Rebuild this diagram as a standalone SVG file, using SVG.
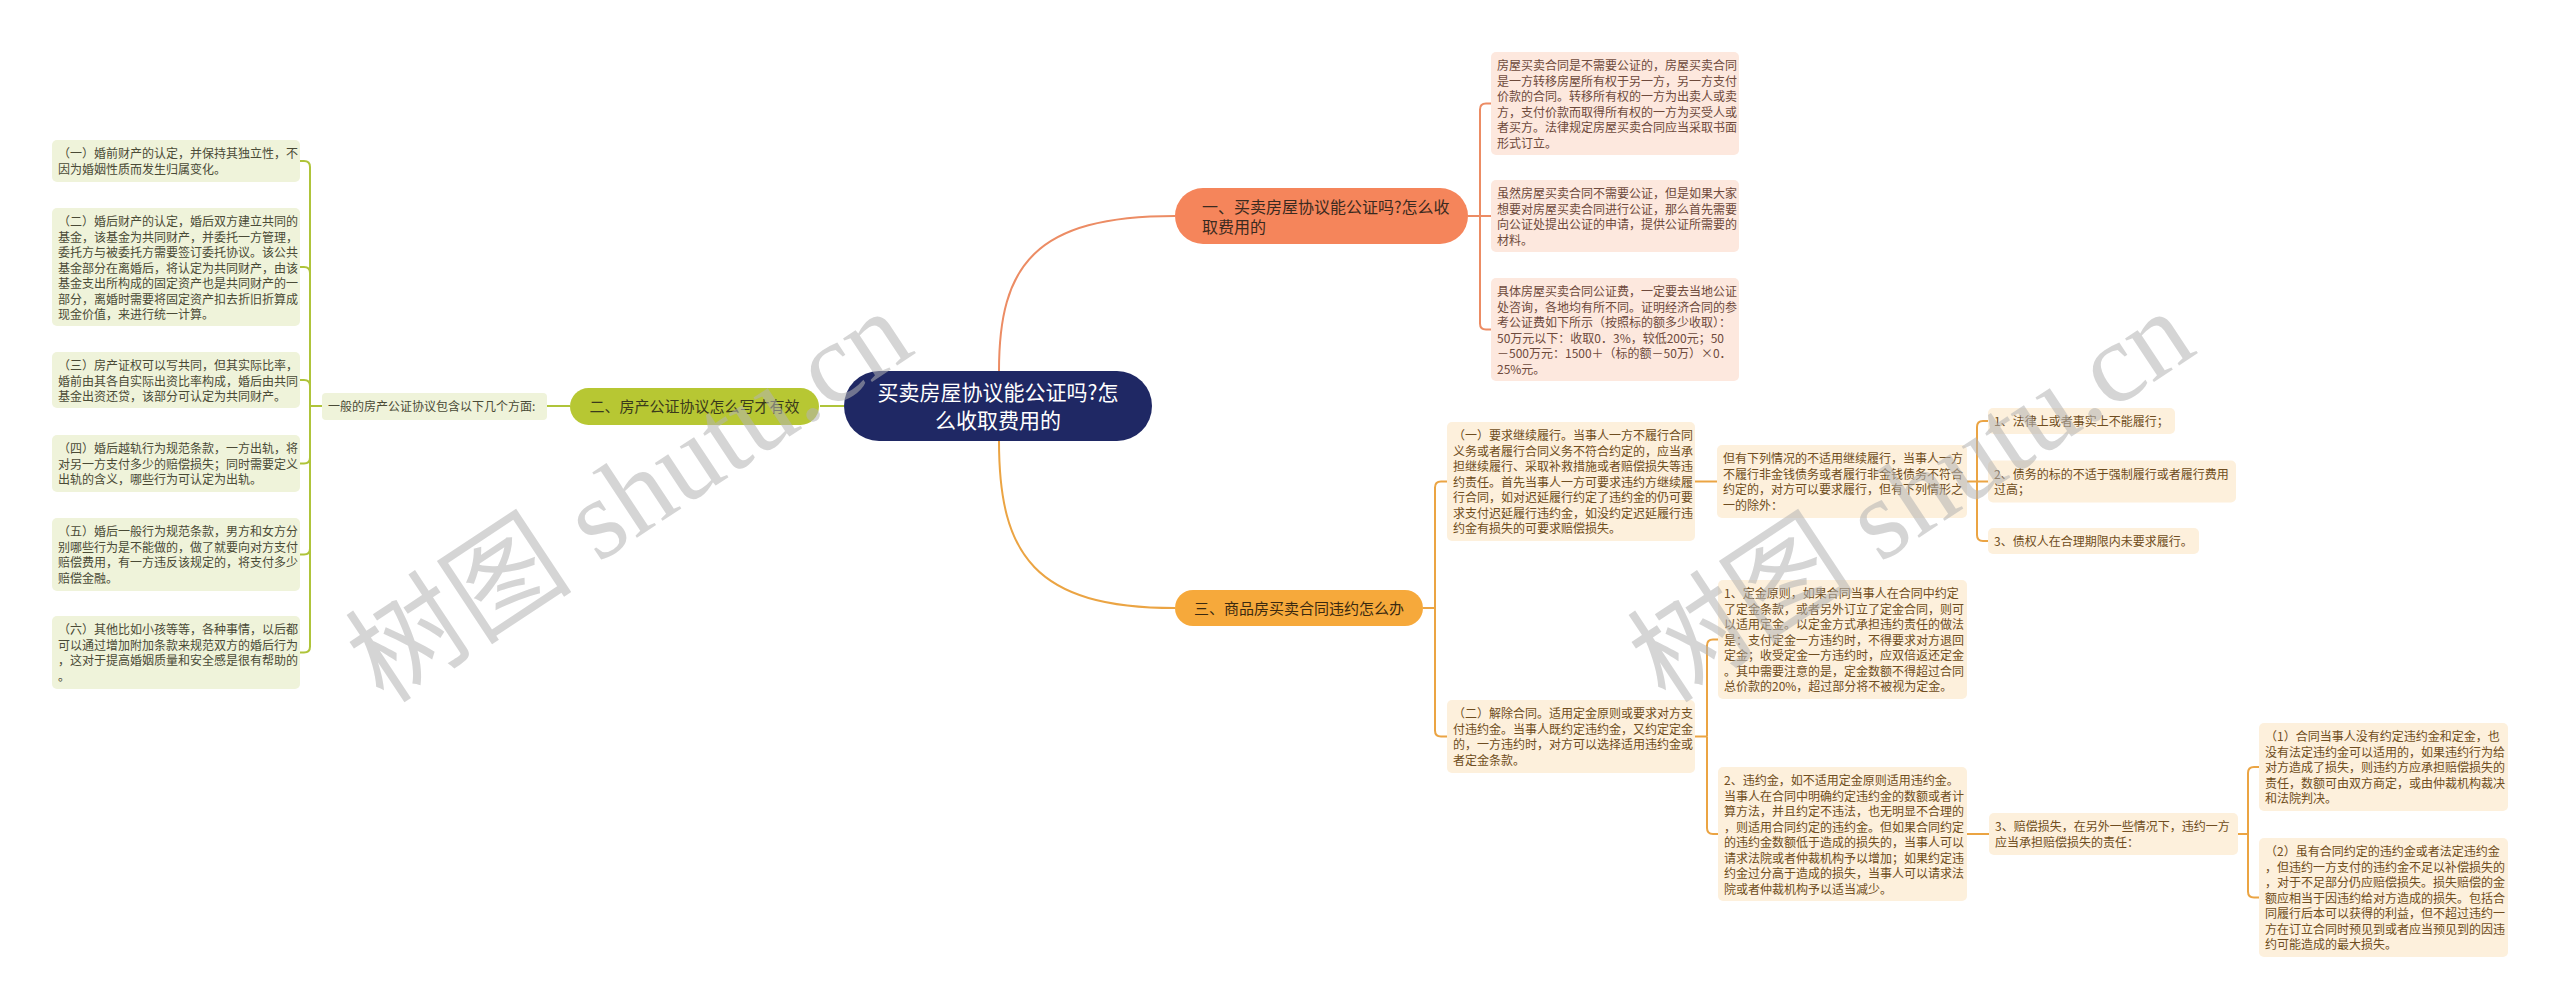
<svg xmlns="http://www.w3.org/2000/svg" width="2560" height="1007" viewBox="0 0 2560 1007">
<style>
text{font-family:"Noto Sans CJK SC","Noto Sans",sans-serif;}
.t12{font-size:12px;}
.lime rect{fill:#eff3da;}
.lime text{fill:#4a4a36;}
.pink rect{fill:#fde8de;}
.pink text{fill:#6e4a3c;}
.org rect{fill:#fdf0dc;}
.org text{fill:#6f4d20;}
.c-lime{fill:none;stroke:#afc43a;stroke-width:2;}
.c-coral{fill:none;stroke:#ec8c64;stroke-width:2;}
.c-org{fill:none;stroke:#eba443;stroke-width:2;}
.wm{font-family:"Liberation Serif","Noto Sans CJK SC",serif;font-size:114px;fill:#b4b4b4;opacity:0.55;}
</style>
<rect width="2560" height="1007" fill="#ffffff"/>

<g id="connectors">
  <path class="c-lime" d="M844 406 H820"/>
  <path class="c-lime" d="M570 406 H547"/>
  <path class="c-lime" d="M322 406 H310"/>
  <path class="c-lime" d="M310 406 V167 Q310 161 304 161 H300"/>
  <path class="c-lime" d="M310 406 V273 Q310 267 304 267 H300"/>
  <path class="c-lime" d="M310 406 V386 Q310 380 304 380 H300"/>
  <path class="c-lime" d="M310 406 V457.5 Q310 463.5 304 463.5 H300"/>
  <path class="c-lime" d="M310 406 V548.5 Q310 554.5 304 554.5 H300"/>
  <path class="c-lime" d="M310 406 V646.5 Q310 652.5 304 652.5 H300"/>

  <path class="c-coral" d="M999 371 C999 265 1035 216 1175 216"/>
  <path class="c-coral" d="M1468 216 H1491"/>
  <path class="c-coral" d="M1480 216 V109.5 Q1480 103.5 1486 103.5 H1491"/>
  <path class="c-coral" d="M1480 216 V323.5 Q1480 329.5 1486 329.5 H1491"/>

  <path class="c-org" d="M999 441 C999 555 1035 608 1175 608"/>
  <path class="c-org" d="M1423 608 H1435"/>
  <path class="c-org" d="M1435 608 V487.5 Q1435 481.5 1441 481.5 H1447"/>
  <path class="c-org" d="M1435 608 V730.5 Q1435 736.5 1441 736.5 H1447"/>
  <path class="c-org" d="M1695 481.5 H1717"/>
  <path class="c-org" d="M1967 481.5 H1988"/>
  <path class="c-org" d="M1977 481.5 V427 Q1977 421 1983 421 H1988"/>
  <path class="c-org" d="M1977 481.5 V535 Q1977 541 1983 541 H1988"/>
  <path class="c-org" d="M1695 736.5 H1707"/>
  <path class="c-org" d="M1707 736.5 V645.5 Q1707 639.5 1713 639.5 H1718"/>
  <path class="c-org" d="M1707 736.5 V828 Q1707 834 1713 834 H1718"/>
  <path class="c-org" d="M1967 834 H1989"/>
  <path class="c-org" d="M2238 834 H2248"/>
  <path class="c-org" d="M2248 834 V773 Q2248 767 2254 767 H2259"/>
  <path class="c-org" d="M2248 834 V891.5 Q2248 897.5 2254 897.5 H2259"/>
</g>

<g id="root">
  <rect x="844" y="371" width="308" height="70" rx="35" fill="#1f2864"/>
  <text x="998" y="400" font-size="21" fill="#ffffff" text-anchor="middle">买卖房屋协议能公证吗?怎</text>
  <text x="998" y="428" font-size="21" fill="#ffffff" text-anchor="middle">么收取费用的</text>
</g>

<g id="branch2">
  <rect x="570" y="388" width="249" height="37" rx="18.5" fill="#b7c733"/>
  <text x="694.5" y="411.5" font-size="15" fill="#3a3a1c" text-anchor="middle">二、房产公证协议怎么写才有效</text>
</g>
<g id="b2-sub" class="lime">
  <rect x="322" y="393" width="225" height="27" rx="4"/>
  <text x="328" y="410.5" class="t12">一般的房产公证协议包含以下几个方面:</text>
</g>
<g id="leaf-l1" class="lime">
  <rect x="52" y="140" width="248" height="42" rx="5"/>
  <text class="t12"><tspan x="58" y="158">（一）婚前财产的认定，并保持其独立性，不</tspan><tspan x="58" dy="15.5">因为婚姻性质而发生归属变化。</tspan></text>
</g>
<g id="leaf-l2" class="lime">
  <rect x="52" y="208" width="248" height="118" rx="5"/>
  <text class="t12"><tspan x="58" y="226">（二）婚后财产的认定，婚后双方建立共同的</tspan><tspan x="58" dy="15.5">基金，该基金为共同财产，并委托一方管理，</tspan><tspan x="58" dy="15.5">委托方与被委托方需要签订委托协议。该公共</tspan><tspan x="58" dy="15.5">基金部分在离婚后，将认定为共同财产，由该</tspan><tspan x="58" dy="15.5">基金支出所构成的固定资产也是共同财产的一</tspan><tspan x="58" dy="15.5">部分，离婚时需要将固定资产扣去折旧折算成</tspan><tspan x="58" dy="15.5">现金价值，来进行统一计算。</tspan></text>
</g>
<g id="leaf-l3" class="lime">
  <rect x="52" y="352" width="248" height="56" rx="5"/>
  <text class="t12"><tspan x="58" y="370">（三）房产证权可以写共同，但其实际比率，</tspan><tspan x="58" dy="15.5">婚前由其各自实际出资比率构成，婚后由共同</tspan><tspan x="58" dy="15.5">基金出资还贷，该部分可认定为共同财产。</tspan></text>
</g>
<g id="leaf-l4" class="lime">
  <rect x="52" y="435" width="248" height="57" rx="5"/>
  <text class="t12"><tspan x="58" y="453">（四）婚后越轨行为规范条款，一方出轨，将</tspan><tspan x="58" dy="15.5">对另一方支付多少的赔偿损失；同时需要定义</tspan><tspan x="58" dy="15.5">出轨的含义，哪些行为可认定为出轨。</tspan></text>
</g>
<g id="leaf-l5" class="lime">
  <rect x="52" y="518" width="248" height="73" rx="5"/>
  <text class="t12"><tspan x="58" y="536">（五）婚后一般行为规范条款，男方和女方分</tspan><tspan x="58" dy="15.5">别哪些行为是不能做的，做了就要向对方支付</tspan><tspan x="58" dy="15.5">赔偿费用，有一方违反该规定的，将支付多少</tspan><tspan x="58" dy="15.5">赔偿金融。</tspan></text>
</g>
<g id="leaf-l6" class="lime">
  <rect x="52" y="616" width="248" height="73" rx="5"/>
  <text class="t12"><tspan x="58" y="634">（六）其他比如小孩等等，各种事情，以后都</tspan><tspan x="58" dy="15.5">可以通过增加附加条款来规范双方的婚后行为</tspan><tspan x="58" dy="15.5">，这对于提高婚姻质量和安全感是很有帮助的</tspan><tspan x="58" dy="15.5">。</tspan></text>
</g>

<g id="branch1">
  <rect x="1175" y="188" width="293" height="56" rx="28" fill="#f5855b"/>
  <text font-size="16" fill="#3b2a20"><tspan x="1202" y="212.5">一、买卖房屋协议能公证吗?怎么收</tspan><tspan x="1202" dy="20">取费用的</tspan></text>
</g>
<g id="pink-a" class="pink">
  <rect x="1491" y="52" width="248" height="103" rx="5"/>
  <text class="t12"><tspan x="1497" y="70">房屋买卖合同是不需要公证的，房屋买卖合同</tspan><tspan x="1497" dy="15.5">是一方转移房屋所有权于另一方，另一方支付</tspan><tspan x="1497" dy="15.5">价款的合同。转移所有权的一方为出卖人或卖</tspan><tspan x="1497" dy="15.5">方，支付价款而取得所有权的一方为买受人或</tspan><tspan x="1497" dy="15.5">者买方。法律规定房屋买卖合同应当采取书面</tspan><tspan x="1497" dy="15.5">形式订立。</tspan></text>
</g>
<g id="pink-b" class="pink">
  <rect x="1491" y="180" width="248" height="72" rx="5"/>
  <text class="t12"><tspan x="1497" y="198">虽然房屋买卖合同不需要公证，但是如果大家</tspan><tspan x="1497" dy="15.5">想要对房屋买卖合同进行公证，那么首先需要</tspan><tspan x="1497" dy="15.5">向公证处提出公证的申请，提供公证所需要的</tspan><tspan x="1497" dy="15.5">材料。</tspan></text>
</g>
<g id="pink-c" class="pink">
  <rect x="1491" y="278" width="248" height="103" rx="5"/>
  <text class="t12"><tspan x="1497" y="296">具体房屋买卖合同公证费，一定要去当地公证</tspan><tspan x="1497" dy="15.5">处咨询，各地均有所不同。证明经济合同的参</tspan><tspan x="1497" dy="15.5">考公证费如下所示（按照标的额多少收取）：</tspan><tspan x="1497" dy="15.5">50万元以下：收取0．3%，较低200元；50</tspan><tspan x="1497" dy="15.5">－500万元：1500＋（标的额－50万）×0．</tspan><tspan x="1497" dy="15.5">25%元。</tspan></text>
</g>

<g id="branch3">
  <rect x="1175" y="590" width="248" height="36" rx="18" fill="#f6a93b"/>
  <text x="1299" y="613.5" font-size="15" fill="#3b2a10" text-anchor="middle">三、商品房买卖合同违约怎么办</text>
</g>
<g id="o-1" class="org">
  <rect x="1447" y="422" width="248" height="119" rx="5"/>
  <text class="t12"><tspan x="1453" y="440">（一）要求继续履行。当事人一方不履行合同</tspan><tspan x="1453" dy="15.5">义务或者履行合同义务不符合约定的，应当承</tspan><tspan x="1453" dy="15.5">担继续履行、采取补救措施或者赔偿损失等违</tspan><tspan x="1453" dy="15.5">约责任。首先当事人一方可要求违约方继续履</tspan><tspan x="1453" dy="15.5">行合同，如对迟延履行约定了违约金的仍可要</tspan><tspan x="1453" dy="15.5">求支付迟延履行违约金，如没约定迟延履行违</tspan><tspan x="1453" dy="15.5">约金有损失的可要求赔偿损失。</tspan></text>
</g>
<g id="o-except" class="org">
  <rect x="1717" y="445" width="250" height="73" rx="5"/>
  <text class="t12"><tspan x="1723" y="463">但有下列情况的不适用继续履行，当事人一方</tspan><tspan x="1723" dy="15.5">不履行非金钱债务或者履行非金钱债务不符合</tspan><tspan x="1723" dy="15.5">约定的，对方可以要求履行，但有下列情形之</tspan><tspan x="1723" dy="15.5">一的除外：</tspan></text>
</g>
<g id="o-e1" class="org">
  <rect x="1988" y="408" width="187" height="26" rx="5"/>
  <text class="t12" x="1994" y="425.5">1、法律上或者事实上不能履行；</text>
</g>
<g id="o-e2" class="org">
  <rect x="1988" y="460.5" width="248" height="42" rx="5"/>
  <text class="t12"><tspan x="1994" y="478.5">2、债务的标的不适于强制履行或者履行费用</tspan><tspan x="1994" dy="15.5">过高；</tspan></text>
</g>
<g id="o-e3" class="org">
  <rect x="1988" y="528" width="211" height="26" rx="5"/>
  <text class="t12" x="1994" y="545.5">3、债权人在合理期限内未要求履行。</text>
</g>
<g id="o-2" class="org">
  <rect x="1447" y="700" width="248" height="73" rx="5"/>
  <text class="t12"><tspan x="1453" y="718">（二）解除合同。适用定金原则或要求对方支</tspan><tspan x="1453" dy="15.5">付违约金。当事人既约定违约金，又约定定金</tspan><tspan x="1453" dy="15.5">的，一方违约时，对方可以选择适用违约金或</tspan><tspan x="1453" dy="15.5">者定金条款。</tspan></text>
</g>
<g id="o-deposit" class="org">
  <rect x="1718" y="580" width="249" height="119" rx="5"/>
  <text class="t12"><tspan x="1724" y="598">1、定金原则，如果合同当事人在合同中约定</tspan><tspan x="1724" dy="15.5">了定金条款，或者另外订立了定金合同，则可</tspan><tspan x="1724" dy="15.5">以适用定金。以定金方式承担违约责任的做法</tspan><tspan x="1724" dy="15.5">是：支付定金一方违约时，不得要求对方退回</tspan><tspan x="1724" dy="15.5">定金；收受定金一方违约时，应双倍返还定金</tspan><tspan x="1724" dy="15.5">。其中需要注意的是，定金数额不得超过合同</tspan><tspan x="1724" dy="15.5">总价款的20%，超过部分将不被视为定金。</tspan></text>
</g>
<g id="o-penalty" class="org">
  <rect x="1718" y="767" width="249" height="134" rx="5"/>
  <text class="t12"><tspan x="1724" y="785">2、违约金，如不适用定金原则适用违约金。</tspan><tspan x="1724" dy="15.5">当事人在合同中明确约定违约金的数额或者计</tspan><tspan x="1724" dy="15.5">算方法，并且约定不违法，也无明显不合理的</tspan><tspan x="1724" dy="15.5">，则适用合同约定的违约金。但如果合同约定</tspan><tspan x="1724" dy="15.5">的违约金数额低于造成的损失的，当事人可以</tspan><tspan x="1724" dy="15.5">请求法院或者仲裁机构予以增加；如果约定违</tspan><tspan x="1724" dy="15.5">约金过分高于造成的损失，当事人可以请求法</tspan><tspan x="1724" dy="15.5">院或者仲裁机构予以适当减少。</tspan></text>
</g>
<g id="o-damages" class="org">
  <rect x="1989" y="813" width="249" height="42" rx="5"/>
  <text class="t12"><tspan x="1995" y="831">3、赔偿损失，在另外一些情况下，违约一方</tspan><tspan x="1995" dy="15.5">应当承担赔偿损失的责任：</tspan></text>
</g>
<g id="o-d1" class="org">
  <rect x="2259" y="723" width="249" height="88" rx="5"/>
  <text class="t12"><tspan x="2265" y="741">（1）合同当事人没有约定违约金和定金，也</tspan><tspan x="2265" dy="15.5">没有法定违约金可以适用的，如果违约行为给</tspan><tspan x="2265" dy="15.5">对方造成了损失，则违约方应承担赔偿损失的</tspan><tspan x="2265" dy="15.5">责任，数额可由双方商定，或由仲裁机构裁决</tspan><tspan x="2265" dy="15.5">和法院判决。</tspan></text>
</g>
<g id="o-d2" class="org">
  <rect x="2259" y="838" width="249" height="119" rx="5"/>
  <text class="t12"><tspan x="2265" y="856">（2）虽有合同约定的违约金或者法定违约金</tspan><tspan x="2265" dy="15.5">，但违约一方支付的违约金不足以补偿损失的</tspan><tspan x="2265" dy="15.5">，对于不足部分仍应赔偿损失。损失赔偿的金</tspan><tspan x="2265" dy="15.5">额应相当于因违约给对方造成的损失。包括合</tspan><tspan x="2265" dy="15.5">同履行后本可以获得的利益，但不超过违约一</tspan><tspan x="2265" dy="15.5">方在订立合同时预见到或者应当预见到的因违</tspan><tspan x="2265" dy="15.5">约可能造成的最大损失。</tspan></text>
</g>

<g id="watermark">
  <text class="wm" transform="translate(384 705) rotate(-33.5)">树图 shutu.cn</text>
  <text class="wm" transform="translate(1666 705) rotate(-33.5)">树图 shutu.cn</text>
</g>
</svg>
